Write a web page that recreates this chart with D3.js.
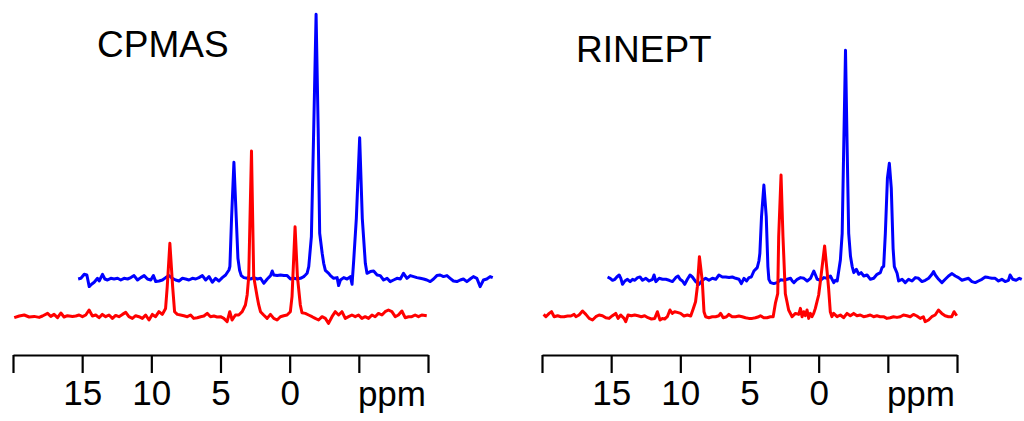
<!DOCTYPE html>
<html><head><meta charset="utf-8">
<script src="https://cdn.jsdelivr.net/npm/d3@7"></script>
<style>body{margin:0;background:#fff;} svg{display:block;font-family:"Liberation Sans",Arial,Helvetica,sans-serif;}</style>
</head><body><svg id="chart" width="1024" height="421"></svg>
<script>
const panelTitles = ["CPMAS", "RINEPT"];
const tickValues = [20, 15, 10, 5, 0, -5, -10];
const labeledTicks = [15, 10, 5, 0];
const unitLabel = "ppm";

// [ppm, intensity (a.u.)]
const cpmasRed = [[19.91,-1],[19.55,0.7],[19.19,1.7],[18.83,-0.3],[18.47,0.3],[18.11,-0.7],[17.87,0.7],[17.50,3.3],[17.27,0.3],[17.03,2.3],[16.78,-1],[16.54,3.7],[16.31,-0.3],[16.06,1],[15.70,0.3],[15.46,0.7],[15.22,1.7],[14.98,0],[14.74,1.7],[14.50,6.7],[14.26,0.7],[14.02,1.7],[13.78,-1],[13.54,2.3],[13.30,0],[13.06,1.7],[12.81,-1.7],[12.58,1.3],[12.34,0],[12.09,2.3],[11.85,4.3],[11.62,0],[11.37,-1.7],[11.13,1],[10.89,0],[10.65,-1.7],[10.41,1.7],[10.17,-3.3],[9.93,2.3],[9.69,0],[9.45,5],[9.21,2.3],[8.97,8.3],[8.85,30],[8.66,73.4],[8.46,30],[8.32,5],[8.12,2.3],[7.89,1.7],[7.65,1],[7.40,0],[7.16,1.7],[6.93,-1.7],[6.68,-1],[6.44,0],[6.20,0.7],[5.96,3.3],[5.72,0],[5.48,0.7],[5.24,-0.3],[5.00,0],[4.76,-1.7],[4.52,-5],[4.33,5],[4.16,-3.3],[3.92,1.7],[3.68,1.7],[3.43,5],[3.20,11.7],[3.07,22],[2.96,40],[2.76,165.7],[2.60,40],[2.35,20],[2.24,12],[2.11,5],[1.88,1.7],[1.63,-1.7],[1.39,2.3],[1.15,-1.7],[0.91,-3.3],[0.67,0],[0.43,1],[0.19,1.7],[-0.05,5],[-0.17,20],[-0.39,90],[-0.56,40],[-0.77,11.7],[-0.89,4],[-1.13,3.3],[-1.37,1.7],[-1.62,0],[-1.85,-1.7],[-2.09,-3.3],[-2.34,0],[-2.58,-1.7],[-2.81,-6.7],[-3.06,0],[-3.30,5],[-3.54,1.7],[-3.78,5],[-4.02,-1.7],[-4.26,0],[-4.50,1.7],[-4.74,0],[-4.98,1.7],[-5.22,-1.7],[-5.46,0],[-5.70,-1.7],[-5.95,1.7],[-6.18,0],[-6.42,3.3],[-6.67,1.7],[-6.90,5],[-7.14,6.7],[-7.39,5],[-7.63,0],[-7.86,1.7],[-8.11,5.7],[-8.35,-1],[-8.59,0],[-8.83,0],[-9.07,1.7],[-9.31,0],[-9.55,1.7],[-9.91,1]];

const cpmasBlue = [[19.96,-0.7],[19.76,0],[19.52,4],[19.33,3.3],[19.16,-8.3],[18.99,-6],[18.80,-4],[18.56,0],[18.44,-2.7],[18.20,4],[18.03,-0.7],[17.84,-1.7],[17.60,0],[17.36,-0.7],[17.11,0],[16.88,-1.7],[16.64,0],[16.39,-0.7],[16.15,0.7],[15.92,2.7],[15.67,-1.7],[15.43,0.7],[15.19,2.7],[14.95,-0.7],[14.71,-1.7],[14.52,2.7],[14.35,-3.3],[14.11,-2.7],[13.87,-1.7],[13.63,0.7],[13.39,2.7],[13.15,0],[12.91,-1.7],[12.67,-2.7],[12.42,0],[12.19,-0.7],[11.95,-1.7],[11.70,0],[11.46,-0.7],[11.23,0.7],[10.98,2.7],[10.74,-1.7],[10.50,1.7],[10.26,-4],[10.02,0],[9.78,-2.7],[9.54,0.7],[9.30,3.3],[9.06,8.3],[8.99,12],[8.87,60],[8.70,116],[8.53,60],[8.41,20],[8.29,8],[8.17,2.7],[7.98,0.7],[7.73,0],[7.50,-0.7],[7.26,0.7],[7.01,-0.7],[6.77,0],[6.54,-5],[6.29,-0.7],[6.05,2.7],[5.93,7.3],[5.82,3.3],[5.57,2.7],[5.33,3.3],[5.09,2.7],[4.85,2.7],[4.61,-0.7],[4.37,0],[4.13,-0.7],[3.89,0],[3.65,1.7],[3.53,3.3],[3.41,5],[3.29,11.7],[3.10,41.7],[2.93,150],[2.76,264],[2.61,150],[2.50,45],[2.32,25],[2.21,15],[2.09,8],[1.85,5],[1.72,2.7],[1.49,0],[1.24,0.7],[1.13,-7.3],[1.00,-1.7],[0.76,0.7],[0.52,-0.7],[0.28,1.7],[0.16,-6],[0.04,18],[-0.15,60],[-0.39,140.6],[-0.58,60],[-0.80,15],[-0.92,5],[-1.16,6.7],[-1.40,7.3],[-1.65,3.3],[-1.88,2.7],[-2.12,-1.7],[-2.37,0],[-2.60,-3.3],[-2.84,-1.7],[-3.09,0],[-3.33,-0.7],[-3.56,5],[-3.81,0],[-4.05,2.7],[-4.29,1.7],[-4.53,0.7],[-4.77,0],[-5.01,-0.7],[-5.25,-1.7],[-5.49,-3.3],[-5.73,-0.7],[-5.97,2.7],[-6.21,3.3],[-6.45,1.7],[-6.70,2.7],[-6.93,0],[-7.17,-2.7],[-7.42,-3.3],[-7.66,-1.7],[-7.89,-0.7],[-8.14,-3.3],[-8.38,-0.7],[-8.61,1.7],[-8.86,0],[-9.10,-8.3],[-9.34,-1.7],[-9.58,-0.7],[-9.82,1.7],[-10.01,0.7]];

const rineptRed = [[19.88,2.3],[19.72,0],[19.48,3.3],[19.31,5],[19.12,0],[18.87,1],[18.64,0],[18.40,0],[18.15,0.7],[17.91,0.7],[17.68,2.3],[17.55,0],[17.32,1.7],[17.07,5.7],[16.83,2.3],[16.59,-1.7],[16.35,-3.3],[16.11,0],[15.87,1.7],[15.63,1],[15.39,-1],[15.15,-1.7],[14.91,1],[14.67,3.3],[14.50,-1.7],[14.31,1.7],[14.07,-1.7],[13.95,-5],[13.78,1.7],[13.54,1],[13.30,1.7],[13.06,1],[12.82,0],[12.58,1],[12.34,-1],[12.09,-2.3],[11.85,-1.7],[11.66,5],[11.47,-3.3],[11.30,-1.7],[11.13,-2.3],[10.94,0],[10.75,6.7],[10.58,3.3],[10.41,5],[10.22,4.3],[9.98,3.3],[9.74,0.7],[9.49,1.7],[9.25,0.7],[9.06,8.3],[8.90,15],[8.77,30],[8.62,60],[8.41,35],[8.29,5],[8.17,0],[7.94,-1],[7.69,0],[7.45,0],[7.21,1],[7.09,3.3],[6.90,-1],[6.66,0],[6.49,2.3],[6.25,0],[6.01,0],[5.77,0.7],[5.53,0],[5.29,-1],[5.05,-1.7],[4.80,-1.7],[4.57,-1],[4.33,0],[4.21,1],[3.97,-1],[3.73,-1],[3.49,0],[3.29,0],[3.13,13.3],[2.96,23],[2.89,80],[2.72,141.7],[2.58,80],[2.41,23],[2.29,15],[2.17,6.7],[1.92,0],[1.68,3.3],[1.44,2.3],[1.32,8.3],[1.20,0],[1.08,5],[0.96,1],[0.84,6.7],[0.72,-1.7],[0.60,3.3],[0.48,0],[0.36,3.3],[0.24,8.3],[0.12,15],[0.00,21.7],[-0.12,35],[-0.43,70.7],[-0.61,45],[-0.72,28],[-0.84,5],[-0.96,0],[-1.08,3.3],[-1.33,0],[-1.57,1.7],[-1.80,-1],[-2.05,3.3],[-2.29,1],[-2.53,3.3],[-2.77,1],[-3.01,1.7],[-3.25,0],[-3.49,0.7],[-3.73,1.7],[-3.97,0],[-4.21,1],[-4.45,0],[-4.69,0],[-4.93,-1.7],[-5.17,-1],[-5.41,0],[-5.66,-0.7],[-5.90,0],[-6.13,1.7],[-6.38,1],[-6.62,0],[-6.85,2.3],[-7.10,0.7],[-7.34,-1.7],[-7.57,0],[-7.70,-5],[-7.94,-3.3],[-8.18,0],[-8.42,1.7],[-8.66,6.7],[-8.90,3.3],[-9.14,1],[-9.38,0],[-9.62,0],[-9.79,5],[-9.98,1]];

const rineptBlue = [[19.93,1.3],[19.74,0],[19.57,-2],[19.40,-1],[19.26,1.3],[19.09,3.3],[18.97,0],[18.85,-6],[18.68,-2.7],[18.49,-1],[18.30,-3.3],[18.12,-1],[17.96,-2],[17.76,0.7],[17.58,1.3],[17.40,-2],[17.16,0],[16.93,-2.7],[16.68,-1],[16.57,3.3],[16.44,-3.3],[16.20,0],[15.96,-1],[15.72,-1],[15.48,-2],[15.24,-3.3],[15.00,0.7],[14.83,2.3],[14.69,-1],[14.52,-2.7],[14.35,-6],[14.16,-1],[13.97,3.3],[13.80,1.3],[13.56,-3.3],[13.32,-6],[13.07,-2],[12.84,0],[12.60,-2],[12.35,0],[12.11,-1],[11.88,3.3],[11.63,1.3],[11.39,1.3],[11.15,0.7],[10.91,1.3],[10.67,0],[10.43,-1],[10.26,-5.3],[10.07,0],[9.88,-2.7],[9.71,0.7],[9.54,1.3],[9.35,7.3],[9.11,10.7],[8.99,17.3],[8.92,25],[8.80,62],[8.63,93.3],[8.46,62],[8.34,11.7],[8.27,-1],[8.15,-4.3],[7.91,-5.3],[7.67,-4.3],[7.42,-1.5],[7.19,-2],[6.94,-1],[6.70,0],[6.58,-2.7],[6.46,-4.3],[6.22,-1],[5.98,0.7],[5.74,0],[5.50,-2.7],[5.26,0],[5.02,7.3],[4.90,3.3],[4.78,-1],[4.54,-2],[4.30,0.7],[4.05,0],[3.82,2.3],[3.58,-4.3],[3.46,-2],[3.33,-2.7],[3.22,7.3],[3.10,18.3],[2.97,45],[2.86,130],[2.73,228],[2.61,130],[2.50,45],[2.37,22],[2.25,12],[2.13,5.7],[1.94,9],[1.77,4],[1.60,5.7],[1.41,2.3],[1.17,3.3],[0.93,-1],[0.69,0],[0.45,4],[0.21,5.7],[0.09,10.7],[-0.03,12],[-0.15,45],[-0.30,100],[-0.44,115],[-0.58,90],[-0.71,30],[-0.80,11.7],[-1.00,5],[-1.11,-2.7],[-1.36,-1],[-1.59,-4.3],[-1.83,-1],[-2.08,-2.7],[-2.32,0.7],[-2.55,0],[-2.80,-3.3],[-3.04,-2],[-3.28,0],[-3.52,4],[-3.64,6.7],[-3.76,3.3],[-4.00,-1],[-4.24,-4.3],[-4.48,-1],[-4.72,2.3],[-4.97,4.7],[-5.21,2.3],[-5.44,0.7],[-5.69,-2],[-5.92,-1],[-6.16,0],[-6.41,-3.3],[-6.65,-4.3],[-6.88,-2.7],[-7.13,-1],[-7.37,1.3],[-7.61,0.7],[-7.85,0],[-8.09,0],[-8.33,-2.7],[-8.57,-1],[-8.81,-3.3],[-9.05,-2],[-9.17,3.3],[-9.36,-1],[-9.60,-2],[-9.84,0],[-10.01,-1]];

const panels = [
  {title: panelTitles[0], red: cpmasRed, blue: cpmasBlue, x0: 13, titleX: 97, titleY: 57},
  {title: panelTitles[1], red: rineptRed, blue: rineptBlue, x0: 542, titleX: 576, titleY: 62}
];

const svg = d3.select("#chart");
const W = 415;
const blueShift = {dx: 64.6, dy: -38.4};
const axisY = 355;

panels.forEach(p => {
  const x = d3.scaleLinear().domain([20, -10]).range([p.x0, p.x0 + W]);
  const y = d3.scaleLinear().domain([0, 300]).range([316.7, 16.7]);
  const line = d3.line().x(d => x(d[0])).y(d => y(d[1]));

  svg.append("path").datum(p.blue)
    .attr("transform", `translate(${blueShift.dx},${blueShift.dy})`)
    .attr("d", line).attr("fill", "none").attr("stroke", "#0000ff")
    .attr("stroke-width", 3).attr("stroke-linejoin", "round");
  svg.append("path").datum(p.red)
    .attr("d", line).attr("fill", "none").attr("stroke", "#ff0000")
    .attr("stroke-width", 3).attr("stroke-linejoin", "round");

  const axis = d3.axisBottom(x).tickValues(tickValues).tickSize(18).tickSizeOuter(0)
    .tickPadding(7).tickFormat(d => labeledTicks.includes(d) ? d : "");
  const g = svg.append("g").attr("transform", `translate(0,${axisY})`).call(axis)
    .attr("font-family", null).attr("font-size", null);
  g.select(".domain").attr("stroke", "#000").attr("stroke-width", 2.2);
  g.selectAll(".tick line").attr("stroke", "#000").attr("stroke-width", 2.2);
  g.selectAll(".tick text").attr("font-size", 35).attr("fill", "#000");

  svg.append("text").attr("x", x(-10) - 2).attr("y", axisY + 50.5)
    .attr("text-anchor", "end").attr("font-size", 35).attr("fill", "#000").text(unitLabel);

  svg.append("text").attr("x", p.titleX).attr("y", p.titleY)
    .attr("font-size", 37).attr("fill", "#000").text(p.title);
});
</script></body></html>
